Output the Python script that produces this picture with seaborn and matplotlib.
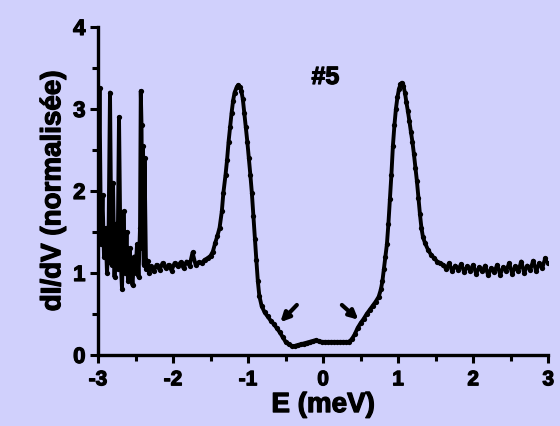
import matplotlib
matplotlib.use("Agg")
import matplotlib.pyplot as plt
import matplotlib.patheffects as pe
import seaborn as sns
import pandas as pd
from matplotlib.ticker import MultipleLocator

# ---- data ----
energy = [
    -3.00, -2.98, -2.96, -2.94, -2.92, -2.90, -2.88, -2.86, -2.84, -2.82,
    -2.80, -2.78, -2.76, -2.74, -2.72, -2.70, -2.68, -2.66, -2.64, -2.62,
    -2.60, -2.58, -2.56, -2.54, -2.52, -2.50, -2.48, -2.46, -2.44, -2.43,
    -2.42, -2.41, -2.40, -2.39, -2.38, -2.36, -2.34, -2.32, -2.30,
    -2.26, -2.22, -2.18, -2.14, -2.10, -2.06, -2.02, -1.98, -1.94, -1.90,
    -1.86, -1.82, -1.78, -1.74, -1.70, -1.66, -1.62, -1.58, -1.54, -1.50,
    -1.47, -1.44, -1.41, -1.38, -1.35, -1.33, -1.30, -1.28, -1.26, -1.24,
    -1.22, -1.20, -1.18, -1.15, -1.13, -1.11, -1.09, -1.07, -1.05, -1.03,
    -1.01, -0.99, -0.97, -0.95, -0.93, -0.91, -0.89, -0.87, -0.85, -0.82,
    -0.78, -0.74, -0.70, -0.66, -0.62, -0.58, -0.54, -0.50, -0.46, -0.42,
    -0.38, -0.34, -0.30, -0.26, -0.22, -0.18, -0.14, -0.10, -0.06, -0.02,
    0.02, 0.06, 0.10, 0.14, 0.18, 0.22, 0.26, 0.30, 0.34, 0.38,
    0.42, 0.46, 0.50, 0.54, 0.58, 0.62, 0.66, 0.70, 0.74, 0.77,
    0.79, 0.81, 0.83, 0.85, 0.87, 0.89, 0.91, 0.93, 0.95, 0.97,
    0.99, 1.01, 1.03, 1.05, 1.07, 1.09, 1.11, 1.13, 1.15, 1.17,
    1.19, 1.21, 1.23, 1.25, 1.27, 1.29, 1.31, 1.33, 1.36, 1.40,
    1.44, 1.48, 1.52, 1.56, 1.60, 1.64, 1.68, 1.72, 1.76, 1.80,
    1.84, 1.88, 1.92, 1.96, 2.00, 2.04, 2.08, 2.12, 2.16, 2.20,
    2.24, 2.28, 2.32, 2.36, 2.40, 2.44, 2.48, 2.52, 2.56, 2.60,
    2.64, 2.68, 2.72, 2.76, 2.80, 2.84, 2.88, 2.92, 2.96, 3.00,
]
conductance = [
    1.45, 3.25, 1.35, 1.95, 1.20, 1.55, 1.00, 1.40, 3.20, 1.10,
    2.10, 0.95, 1.60, 1.05, 2.90, 1.20, 0.80, 1.75, 1.00, 1.50,
    0.90, 1.30, 1.05, 0.85, 1.20, 1.00, 1.35, 0.95, 1.55, 3.22,
    2.80, 1.30, 2.55, 1.10, 2.40, 1.05, 1.15, 1.00, 1.08,
    1.02, 1.10, 1.04, 1.12, 1.06, 1.10, 1.03, 1.12, 1.08, 1.13,
    1.06, 1.14, 1.09, 1.25, 1.10, 1.13, 1.12, 1.16, 1.18, 1.21,
    1.26, 1.36, 1.45, 1.55, 1.75, 1.97, 2.20, 2.38, 2.60, 2.78,
    2.95, 3.10, 3.20, 3.27, 3.29, 3.27, 3.22, 3.12, 2.95, 2.78,
    2.60, 2.40, 2.20, 1.98, 1.70, 1.42, 1.16, 0.90, 0.72, 0.60,
    0.52, 0.47, 0.42, 0.38, 0.33, 0.28, 0.22, 0.16, 0.13, 0.11,
    0.11, 0.12, 0.13, 0.14, 0.15, 0.16, 0.17, 0.18, 0.17, 0.16,
    0.16, 0.16, 0.16, 0.16, 0.16, 0.16, 0.16, 0.16, 0.16, 0.19,
    0.25, 0.33, 0.39, 0.44, 0.50, 0.55, 0.60, 0.65, 0.71, 0.80,
    0.90, 1.05, 1.20, 1.35, 1.60, 1.90, 2.20, 2.55, 2.80, 3.00,
    3.14, 3.24, 3.30, 3.32, 3.28, 3.20, 3.08, 2.97, 2.85, 2.72,
    2.60, 2.45, 2.28, 2.12, 1.92, 1.72, 1.55, 1.44, 1.36, 1.28,
    1.22, 1.18, 1.14, 1.12, 1.10, 1.05, 1.12, 1.02, 1.09, 1.04,
    1.11, 1.01, 1.08, 1.03, 1.10, 0.99, 1.07, 1.02, 1.09, 0.97,
    1.06, 1.01, 1.10, 0.98, 1.07, 1.03, 1.12, 0.99, 1.08, 1.02,
    1.14, 1.00, 1.09, 1.04, 1.15, 1.02, 1.12, 1.06, 1.18, 1.12,
]
x_ticks = [-3, -2, -1, 0, 1, 2, 3]
y_ticks = [0, 1, 2, 3, 4]
x_label = "E (meV)"
y_label = "dI/dV (normalisée)"
sample_label = "#5"
arrow_tails = [(-0.35, 0.61), (0.25, 0.61)]
arrow_heads = [(-0.57, 0.40), (0.47, 0.43)]

df = pd.DataFrame({"E": energy, "G": conductance})

bg = "#D0D0FC"
sns.set_style("white")
plt.rcParams["font.family"] = ["Liberation Sans", "DejaVu Sans"]
plt.rcParams["font.weight"] = "bold"
plt.rcParams["text.color"] = "black"
plt.rcParams["axes.labelcolor"] = "black"
plt.rcParams["xtick.color"] = "black"
plt.rcParams["ytick.color"] = "black"

heavy = [pe.withStroke(linewidth=0.9, foreground="black")]

fig = plt.figure(figsize=(5.6, 4.26), dpi=100, facecolor=bg)
ax = fig.add_axes([0.175, 0.1667, 0.804, 0.770])
ax.set_facecolor(bg)

sns.lineplot(data=df, x="E", y="G", ax=ax, color="black", linewidth=2.8,
             marker="o", markersize=3.8, markeredgewidth=0, estimator=None,
             sort=False)

for (tx, ty), (hx, hy) in zip(arrow_tails, arrow_heads):
    ax.annotate("", xy=(hx, hy), xytext=(tx, ty),
                arrowprops=dict(arrowstyle="-|>", color="black", lw=3,
                                mutation_scale=13, shrinkA=0, shrinkB=0))

ax.text(0.03, 3.39, sample_label, ha="center", va="center",
        fontsize=18, fontweight="bold", color="black", path_effects=heavy)

ax.set_xlim(-3, 3)
ax.set_ylim(0, 4)
ax.set_xticks(x_ticks)
ax.set_yticks(y_ticks)
ax.set_xticklabels([str(v) for v in x_ticks], fontsize=15, fontweight="bold")
ax.set_yticklabels([str(v) for v in y_ticks], fontsize=16, fontweight="bold")
for lab in ax.get_xticklabels() + ax.get_yticklabels():
    lab.set_path_effects(heavy)
ax.xaxis.set_minor_locator(MultipleLocator(0.5))
ax.yaxis.set_minor_locator(MultipleLocator(0.5))
ax.tick_params(which="major", direction="out", length=6, width=2.2,
               bottom=True, left=True)
ax.tick_params(axis="x", which="major", pad=5)
ax.tick_params(axis="y", which="major", pad=3)
ax.tick_params(which="minor", direction="out", length=4, width=2.2,
               bottom=True, left=True)

for side in ["top", "right"]:
    ax.spines[side].set_visible(False)
for side in ["left", "bottom"]:
    ax.spines[side].set_color("black")
    ax.spines[side].set_linewidth(2.4)

ax.set_xlabel(x_label, fontsize=20, fontweight="bold", labelpad=2,
              path_effects=heavy)
ax.set_ylabel(y_label, fontsize=20, fontweight="bold", labelpad=5,
              path_effects=heavy)
ax.grid(False)

fig.savefig("out.png", dpi=100, facecolor=bg)
